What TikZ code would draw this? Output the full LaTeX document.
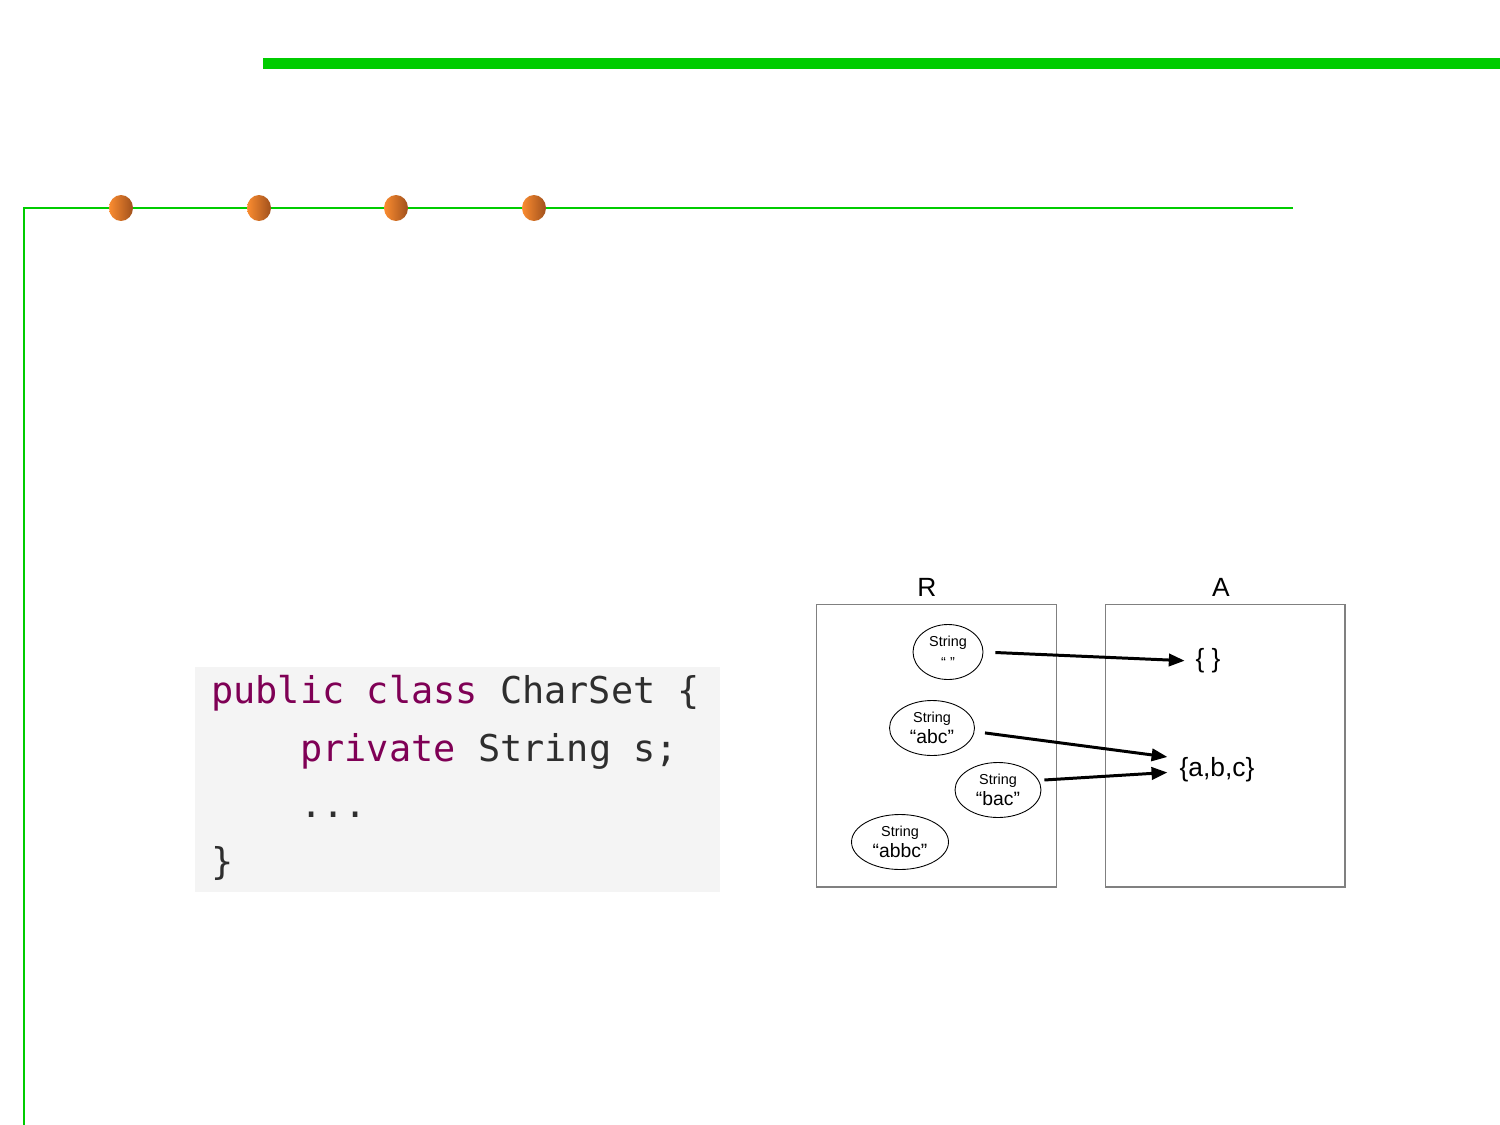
\documentclass[tikz,border=0pt]{standalone}
\usepackage{fontspec}
\setmainfont{Liberation Sans}
\setmonofont{DejaVu Sans Mono}
\usetikzlibrary{shapes.geometric,arrows.meta,positioning}
\definecolor{barGreen}{HTML}{00CC00}
\definecolor{dotLight}{HTML}{FB8C30}
\definecolor{dotDark}{HTML}{A0501C}
\definecolor{codeBg}{HTML}{F4F4F4}
\definecolor{kwPurple}{HTML}{7F0055}
\definecolor{codeInk}{HTML}{2E2E2E}
\definecolor{boxGray}{HTML}{808080}
\newcommand{\kw}[1]{\textcolor{kwPurple}{#1}}
\newcommand{\strval}[1]{{\fontsize{11}{12}\selectfont #1}}
\tikzset{
  dot/.style={ellipse,minimum width=0.48cm,minimum height=0.52cm,inner sep=0pt,left color=dotLight,right color=dotDark},
  codeline/.style={anchor=base west,inner sep=0pt,text=codeInk,font=\ttfamily\fontsize{21}{25}\selectfont},
  setbox/.style={draw=boxGray,line width=0.6pt,minimum width=4.8cm,minimum height=5.66cm},
  strnode/.style={draw,ellipse,line width=0.5pt,inner sep=0pt,minimum height=1.1cm,align=center,font=\fontsize{8.2}{12}\selectfont},
  setlabel/.style={inner sep=2pt,font=\fontsize{15}{18}\selectfont},
  maparrow/.style={-{Triangle[length=9pt,width=7pt]},line width=1.7pt}
}
\begin{document}
\begin{tikzpicture}[x=0.02cm,y=-0.02cm]
\useasboundingbox (0,0) rectangle (1500,1125);
% frame lines
\draw[barGreen,line width=6.2pt] (263,63.5) -- (1500,63.5);
\draw[barGreen,line width=1.2pt] (24,1125) -- (24,208) -- (1293,208);
\foreach \x [count=\i] in {121,259,396,534}
  \node[dot] (dot\i) at (\x,208) {};
% code
\fill[codeBg] (195,667) rectangle (720,892);
\node[codeline] (code1) at (211,703) {\kw{public} \kw{class} CharSet \{};
\node[codeline] (code2) at (300,761) {\kw{private} String s;};
\node[codeline] (code3) at (300,817) {...};
\node[codeline] (code4) at (211,874) {\}};
% R and A
\node[setbox] (boxR) at (936.5,745.5) {};
\node[setbox] (boxA) at (1225,745.5) {};
\node[setlabel] (labR) at (927,587) {R};
\node[setlabel] (labA) at (1221,587) {A};
\node[strnode,minimum width=1.4cm] (s1) at (948,652) {String\\“ ”};
\node[strnode,minimum width=1.7cm] (s2) at (932,728) {String\\\strval{“abc”}};
\node[strnode,minimum width=1.72cm] (s3) at (998,790) {String\\\strval{“bac”}};
\node[strnode,minimum width=1.94cm] (s4) at (900,842) {String\\\strval{“abbc”}};
\node[setlabel] (empty) at (1208,661) {\{ \}};
\node[setlabel] (abc) at (1217,770) {\{a,b,c\}};
\draw[maparrow,shorten <=6.8pt,shorten >=4pt] (s1.east) -- (empty.west);
\draw[maparrow,shorten >=4.8pt] ([xshift=5.7pt,yshift=-2.8pt]s2.east) -- ([yshift=6.8pt]abc.west);
\draw[maparrow,shorten >=4.8pt] ([xshift=1.7pt,yshift=5.7pt]s3.east) -- ([yshift=-1.1pt]abc.west);
\end{tikzpicture}
\end{document}
